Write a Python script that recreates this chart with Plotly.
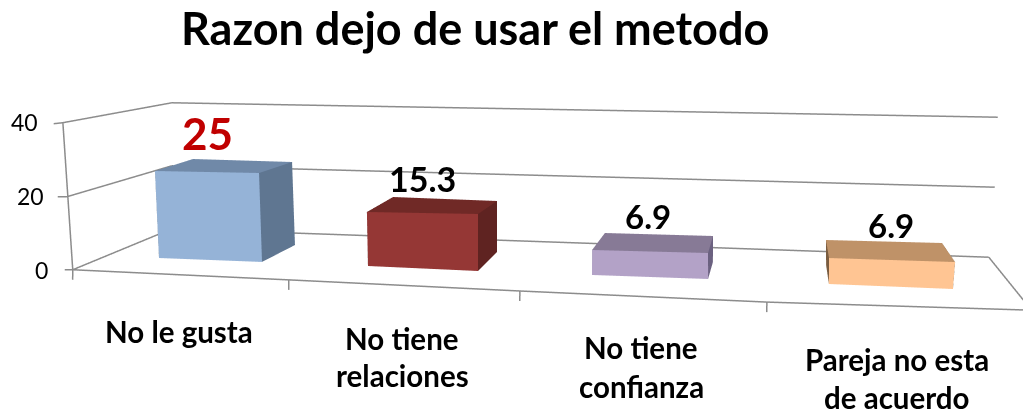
import numpy as np
import plotly.graph_objects as go

W, H = 1023, 412
categories = ["No le gusta", "No tiene\nrelaciones", "No tiene\nconfianza", "Pareja no esta\nde acuerdo"]
values = [25, 15.3, 6.9, 6.9]
ticks = [0, 20, 40]
title = "Razon dejo de usar el metodo"

front = ["#95B3D7", "#953735", "#B3A2C7", "#FFC593"]
top = ["#7089A8", "#702926", "#877A96", "#BF9268"]
side = ["#5F7691", "#5F2321", "#6B6180", "#7A5C3F"]
GR = "#8C8C8C"

eye = (0.6237, -2.103, 0.3743)
center = (0.5812, -1.9319, 0.3378)
up = (-0.7954, 3.4226, 1)
ay, az = 0.4713, 0.7093

# footprint of each bar on the floor and at its top: front-left, front-right, back-right, back-left
foot = [[(0.249, 0.202), (0.856, 0.247), (0.822, 0.875), (0.207, 0.789)],
        [(1.422, 0.292), (1.96, 0.311), (1.969, 0.929), (1.419, 0.844)],
        [(2.462, 0.361), (2.93, 0.408), (2.981, 0.898), (2.503, 0.88)],
        [(3.374, 0.433), (3.79, 0.46), (3.87, 0.945), (3.444, 0.951)]]
head = [[(0.238, 0.355), (0.916, 0.228), (0.768, 1.148), (-0.089, 1.522)],
        [(1.47, 0.192), (1.987, 0.216), (1.993, 0.82), (1.419, 0.946)],
        [(2.465, 0.281), (2.919, 0.325), (2.975, 0.887), (2.502, 0.875)],
        [(3.345, 0.314), (3.751, 0.336), (3.841, 0.887), (3.42, 0.868)]]

wall = [(-0.217, 0, -3.11), (-0.149, 0, 18.89), (-0.072, 0, 39.6), (-0.069, 1, 2.82), (0.011, 1, 24.33), (0.086, 1, 44.5),
        (4.038, 1, 3.07), (4.018, 1, 19.36), (3.99, 1, 34.81), (1.092, 0, -2.1), (2.184, 0, -1.33), (3.106, 0, -0.51),
        (3.893, 0, 0.93), (3.898, 0, -1.02), (1.085, 0, -4.87), (2.182, 0, -3.78), (3.108, 0, -2.69), (-0.233, 0, -6.27),
        (-0.273, 0, -3.27), (-0.21, 0, 18.84), (-0.132, 0, 39.39)]
segments = [(3, 6), (4, 7), (5, 8), (0, 3), (1, 4), (2, 5), (0, 2), (0, 9), (9, 10), (10, 11), (11, 12), (12, 6),
            (0, 17), (9, 14), (10, 15), (11, 16), (12, 13), (18, 0), (19, 1), (20, 2)]


def to_px(q):
    e, c, u0 = np.array(eye), np.array(center), np.array(up)
    P = np.array([q[0] - 2, (q[1] - .5) * ay, (q[2] / 40 - .5) * az])
    f = c - e
    f = f / np.linalg.norm(f)
    s = np.cross(f, u0)
    s = s / np.linalg.norm(s)
    u = np.cross(s, f)
    d = P - e
    t = np.tan(np.pi / 8)
    return np.array([((s @ d) / (f @ d) / (t * W / H) + 1) / 2 * W, (1 - (u @ d) / (f @ d) / t) / 2 * H])


def pull_forward(q, depth):
    """Same screen position, but at a smaller depth: keeps the corner in front of the back wall."""
    goal = to_px(q)
    r = np.array([q[0], depth, q[2]], float)
    for _ in range(20):
        J = np.zeros((2, 2))
        for k, n in enumerate((0, 2)):
            rr = r.copy()
            rr[n] += 1e-4
            J[:, k] = (to_px(rr) - to_px(r)) / 1e-4
        dx = np.linalg.solve(J, goal - to_px(r))
        r[0] += dx[0]
        r[2] += dx[1]
    return r


fig = go.Figure()
for i, v in enumerate(values):
    X = [c[0] for c in foot[i]] + [c[0] for c in head[i]]
    Y = [c[1] for c in foot[i]] + [c[1] for c in head[i]]
    Z = [0] * 4 + [v] * 4
    for n in range(4, 8):
        if Y[n] > 0.95:
            r = pull_forward((X[n], Y[n], Z[n]), 0.95)
            X[n], Y[n], Z[n] = float(r[0]), float(r[1]), float(r[2])
    tri = [(0, 1, 5), (0, 5, 4), (1, 2, 6), (1, 6, 5), (3, 0, 4), (3, 4, 7), (4, 5, 6), (4, 6, 7)]
    col = [front[i]] * 2 + [side[i]] * 4 + [top[i]] * 2
    fig.add_trace(go.Mesh3d(x=X, y=Y, z=Z, i=[t[0] for t in tri], j=[t[1] for t in tri], k=[t[2] for t in tri],
                            facecolor=col, flatshading=True, showscale=False, hoverinfo="skip",
                            lighting=dict(ambient=1, diffuse=0, specular=0, roughness=1, fresnel=0)))
lx, ly, lz = [], [], []
for s, e in segments:
    lx += [wall[s][0], wall[e][0], None]
    ly += [wall[s][1], wall[e][1], None]
    lz += [wall[s][2], wall[e][2], None]
fig.add_trace(go.Scatter3d(x=lx, y=ly, z=lz, mode="lines", line=dict(color=GR, width=3), hoverinfo="skip", showlegend=False))

noax = dict(visible=False, showgrid=False, zeroline=False, showticklabels=False, showbackground=False, showspikes=False)
fig.update_layout(width=W, height=H, margin=dict(l=0, r=0, t=0, b=0), paper_bgcolor="white", showlegend=False,
    scene=dict(domain=dict(x=[0, 1], y=[0, 1]), bgcolor="white", aspectmode="manual",
               aspectratio=dict(x=6, y=ay * 3, z=az * 3),
               xaxis=dict(range=[-1, 5], **noax), yaxis=dict(range=[-1, 2], **noax), zaxis=dict(range=[-40, 80], **noax),
               camera=dict(eye=dict(x=eye[0], y=eye[1], z=eye[2]), center=dict(x=center[0], y=center[1], z=center[2]),
                           up=dict(x=up[0], y=up[1], z=up[2]), projection=dict(type="perspective"))))


def txt(s, cx, cy, size, color="black", bold=True):
    fig.add_annotation(xref="paper", yref="paper", x=cx / W, y=1 - cy / H, text=f"<b>{s}</b>" if bold else s,
                       showarrow=False, xanchor="center", yanchor="middle", font=dict(family="Lato", size=size, color=color))


txt(title, 475, 28, 45)
for t, (cx, cy) in zip(ticks, [(41, 270), (30, 196), (24, 122)]):
    txt(str(t), cx, cy, 23, bold=False)
lab = [(207, 133, 44, "#C00000"), (422, 178, 34, "black"), (648, 216, 33, "black"), (891, 225, 33, "black")]
for v, (cx, cy, sz, cl) in zip(values, lab):
    txt(f"{v:g}", cx, cy, sz, cl)
pos = [(179, [331]), (402, [338, 375]), (641, [347, 386]), (897, [359, 397])]
for c_, (cx, ys) in zip(categories, pos):
    for s, cy in zip(c_.split("\n"), ys):
        txt(s, cx, cy, 29.5)
fig.write_html("out.html", config=dict(displayModeBar=False), post_script="document.body.style.margin='0';")
